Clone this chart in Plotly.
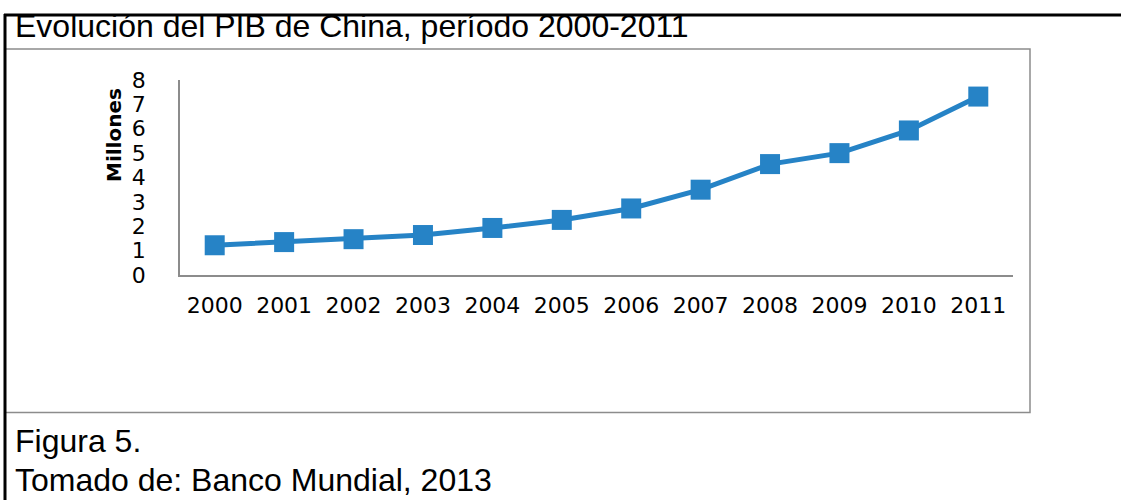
import plotly.graph_objects as go

years = ["2000", "2001", "2002", "2003", "2004", "2005", "2006", "2007", "2008", "2009", "2010", "2011"]
pib = [1.22, 1.35, 1.47, 1.64, 1.93, 2.26, 2.73, 3.50, 4.55, 5.00, 5.93, 7.32]
y_ticks = [0, 1, 2, 3, 4, 5, 6, 7, 8]

W, H = 1121, 500
L, R, T, B = 180, 1013, 80, 275  # plot area in pixels


def px(x):
    return (x - L) / (R - L)


def py(y):
    return (B - y) / (B - T)


fig = go.Figure()
fig.add_trace(go.Scatter(
    x=years, y=pib, mode="lines+markers",
    line=dict(color="#2683C6", width=5),
    marker=dict(symbol="square", size=20, color="#2683C6"),
    cliponaxis=False, showlegend=False,
))

chart_font = "DejaVu Sans"
text_font = "Liberation Sans, Arial"

fig.update_layout(
    width=W, height=H,
    margin=dict(l=L, r=W - R, t=T, b=H - B),
    paper_bgcolor="white", plot_bgcolor="white",
    xaxis=dict(
        type="category", range=[-0.5, 11.5],
        showline=True, linecolor="#8c8c8c", linewidth=1.5,
        showgrid=False, zeroline=False, ticks="",
        tickfont=dict(family=chart_font, size=22, color="black"),
        ticklabelstandoff=10,
    ),
    yaxis=dict(
        range=[0, 8], tickvals=y_ticks,
        showline=True, linecolor="#8c8c8c", linewidth=1.5,
        showgrid=False, zeroline=False, ticks="",
        tickfont=dict(family=chart_font, size=22, color="black"),
        ticklabelstandoff=28,
    ),
)

shapes = [
    # inner gray chart box
    dict(type="rect", xref="paper", yref="paper",
         x0=px(5), x1=px(1030), y0=py(412.5), y1=py(49),
         line=dict(color="#8c8c8c", width=1.5), fillcolor="rgba(0,0,0,0)", layer="below"),
    # black frame top line
    dict(type="line", xref="paper", yref="paper",
         x0=px(4), x1=px(1121), y0=py(15), y1=py(15),
         line=dict(color="black", width=3)),
    # black frame left line
    dict(type="line", xref="paper", yref="paper",
         x0=px(5), x1=px(5), y0=py(14), y1=py(500),
         line=dict(color="black", width=3)),
]
fig.update_layout(shapes=shapes)

annotations = [
    dict(text="Evolución del PIB de China, período 2000-2011", xref="paper", yref="paper",
         x=px(13), y=py(46), xanchor="left", yanchor="bottom", showarrow=False,
         font=dict(family=text_font, size=32, color="black")),
    dict(text="Figura 5.", xref="paper", yref="paper",
         x=px(13), y=py(441), xanchor="left", yanchor="middle", showarrow=False,
         font=dict(family=text_font, size=32, color="black")),
    dict(text="Tomado de: Banco Mundial, 2013", xref="paper", yref="paper",
         x=px(13), y=py(480), xanchor="left", yanchor="middle", showarrow=False,
         font=dict(family=text_font, size=32, color="black")),
    dict(text="<b>Millones</b>", xref="paper", yref="paper",
         x=px(114), y=py(135), xanchor="center", yanchor="middle", showarrow=False,
         textangle=-90, font=dict(family=chart_font, size=20, color="black")),
]
fig.update_layout(annotations=annotations)

fig.write_html(
    "out.html",
    config={"displayModeBar": False},
    post_script="document.body.style.margin='0';document.body.style.overflow='hidden';",
)
